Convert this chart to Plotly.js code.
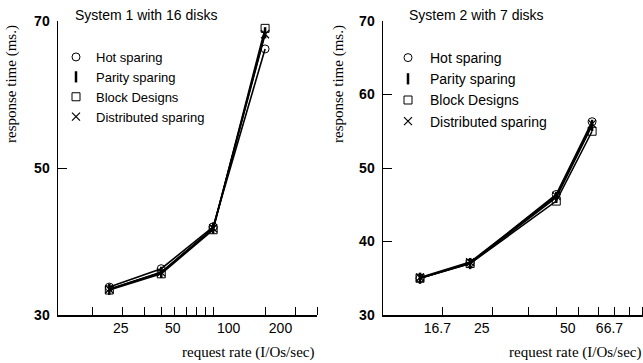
<!DOCTYPE html>
<html><head><meta charset="utf-8">
<script src="https://cdn.plot.ly/plotly-3.0.1.min.js"></script>
<style>html,body{margin:0;padding:0;background:#fff}#chart{width:643px;height:363px}</style>
</head><body><div id="chart"></div>
<script>
// System 1 (16 disks)
const rate1 = [25, 50, 100, 200];
const hot1 = [33.8, 36.3, 42.0, 66.2];
const parity1 = [33.5, 35.8, 41.8, 68.4];
const block1 = [33.4, 35.6, 41.6, 69.0];
const dist1 = [33.5, 35.8, 41.8, 68.2];
// System 2 (7 disks)
const rate2 = [16.7, 25, 50, 66.7];
const hot2 = [35.0, 37.1, 46.4, 56.3];
const parity2 = [35.0, 37.0, 46.0, 55.8];
const block2 = [35.0, 37.0, 45.5, 55.0];
const dist2 = [35.1, 37.2, 46.2, 56.0];

const seriesNames = ['Hot sparing', 'Parity sparing', 'Block Designs', 'Distributed sparing'];
const xTickVals1 = [25, 50, 100, 200];
const xTickText1 = ['25', '50', '100', '200'];
const xTickVals2 = [16.7, 25, 50, 66.7];
const xTickText2 = ['16.7', '25', '50', '66.7'];
const xMinor1 = [20, 30, 40, 50, 60, 70, 80, 90, 100, 200, 300, 400];
const xMinor2 = [20, 30, 40, 50, 60, 70, 80, 90, 100];
const yTicks1 = [30, 50, 70];
const yTicks2 = [30, 40, 50, 60, 70];
const titles = ['System 1 with 16 disks', 'System 2 with 7 disks'];
const yTitle = 'response time (ms.)';
const xTitle = 'request rate (I/Os/sec)';

const symbols = ['circle-open', 'line-ns-open', 'square-open', 'x-thin-open'];
const symLineW = [1, 2.5, 1, 1.2];

const W = 643, H = 363;
const px = v => v / W;
const py = v => 1 - v / H;

const traces = [];
function addSystem(rate, ys, xa, ya, leg) {
  ys.forEach((y, i) => {
    traces.push({x: rate, y: y, xaxis: xa, yaxis: ya, mode: 'lines', showlegend: false,
      line: {color: '#000', width: 1.6}, hoverinfo: 'skip'});
  });
  ys.forEach((y, i) => {
    traces.push({x: rate, y: y, xaxis: xa, yaxis: ya, mode: 'markers', name: seriesNames[i],
      legend: leg, showlegend: true,
      marker: {symbol: symbols[i], size: 8, color: '#000', line: {color: '#000', width: symLineW[i]}}});
  });
}
addSystem(rate1, [hot1, parity1, block1, dist1], 'x', 'y', 'legend');
addSystem(rate2, [hot2, parity2, block2, dist2], 'x2', 'y2', 'legend2');

const tickFontX = {family: 'Liberation Sans, Arial, sans-serif', size: 14, color: '#000'};
const tickFontY = {family: 'Liberation Sans, Arial, sans-serif', size: 14, color: '#000', weight: 700};

function xAxis(domain, range, tv, tt, minor) {
  return {type: 'log', domain: domain, range: range,
    tickmode: 'array', tickvals: tv, ticktext: tt, ticks: '', ticklabelposition: 'outside right',
    ticklabelshift: 3,
    tickfont: tickFontX, showline: true, linecolor: '#000', linewidth: 1.5,
    showgrid: false, zeroline: false, fixedrange: true,
    minor: {tickmode: 'array', tickvals: minor, ticks: 'inside', ticklen: 8, tickwidth: 1, tickcolor: '#000', showgrid: false}};
}
function yAxis(domain, tv) {
  return {domain: domain, range: [30, 70], tickmode: 'array', tickvals: tv,
    ticktext: tv.map(v => '<b>' + v + '</b>'), ticks: 'inside', ticklen: 9,
    tickwidth: 1, tickcolor: '#000', tickfont: tickFontY, showline: true, linecolor: '#000', linewidth: 1.5,
    showgrid: false, zeroline: false, ticklabelstandoff: 4, fixedrange: true};
}
const yDom = [py(315), py(21)];
const x1 = xAxis([px(58), px(317)], [Math.log10(12.6), Math.log10(400)], xTickVals1, xTickText1, xMinor1);
x1.anchor = 'y';
const x2 = xAxis([px(383), 1], [Math.log10(12.4), 2.002], xTickVals2, xTickText2, xMinor2);
x2.anchor = 'y2';
const y1 = yAxis(yDom, yTicks1); y1.anchor = 'x';
const y2 = yAxis(yDom, yTicks2); y2.anchor = 'x2';

const legFont1 = {family: 'Liberation Sans, Arial, sans-serif', size: 13, color: '#000'};
const legFont2 = {family: 'Liberation Sans, Arial, sans-serif', size: 14, color: '#000'};
const serifFont = {family: 'Liberation Serif, Times New Roman, serif', size: 15, color: '#000'};
const titleFont = {family: 'Liberation Sans, Arial, sans-serif', size: 14, color: '#000'};

const layout = {
  width: W, height: H, margin: {l: 0, r: 0, t: 0, b: 0},
  paper_bgcolor: '#fff', plot_bgcolor: 'rgba(0,0,0,0)',
  xaxis: x1, yaxis: y1, xaxis2: x2, yaxis2: y2,
  xaxis3: {type: 'log', overlaying: 'x', anchor: 'y', range: x1.range, domain: x1.domain,
    tickmode: 'array', tickvals: [100], ticks: 'inside', ticklen: 12, tickwidth: 1, tickcolor: '#000',
    showticklabels: false, showline: false, showgrid: false, zeroline: false},
  showlegend: true,
  legend: {x: px(56), y: py(42), xanchor: 'left', yanchor: 'top', bgcolor: 'rgba(0,0,0,0)',
    font: legFont1, borderwidth: 0, itemclick: false, itemdoubleclick: false},
  legend2: {x: px(386), y: py(42), xanchor: 'left', yanchor: 'top', bgcolor: 'rgba(0,0,0,0)',
    font: legFont2, borderwidth: 0, itemwidth: 34, itemclick: false, itemdoubleclick: false},
  annotations: [
    {text: titles[0], xref: 'paper', yref: 'paper', x: px(73), y: py(15), xanchor: 'left', yanchor: 'middle', showarrow: false, font: titleFont},
    {text: titles[1], xref: 'paper', yref: 'paper', x: px(407), y: py(15), xanchor: 'left', yanchor: 'middle', showarrow: false, font: titleFont},
    {text: yTitle, xref: 'paper', yref: 'paper', x: px(11), y: py(84), textangle: -90, xanchor: 'center', yanchor: 'middle', showarrow: false, font: serifFont},
    {text: yTitle, xref: 'paper', yref: 'paper', x: px(338), y: py(84), textangle: -90, xanchor: 'center', yanchor: 'middle', showarrow: false, font: serifFont},
    {text: xTitle, xref: 'paper', yref: 'paper', x: px(316), y: py(352), xanchor: 'right', yanchor: 'middle', showarrow: false, font: serifFont},
    {text: xTitle, xref: 'paper', yref: 'paper', x: px(643), y: py(352), xanchor: 'right', yanchor: 'middle', showarrow: false, font: serifFont}
  ]
};
Plotly.newPlot('chart', traces, layout, {staticPlot: true, displayModeBar: false});
</script>
</body></html>
